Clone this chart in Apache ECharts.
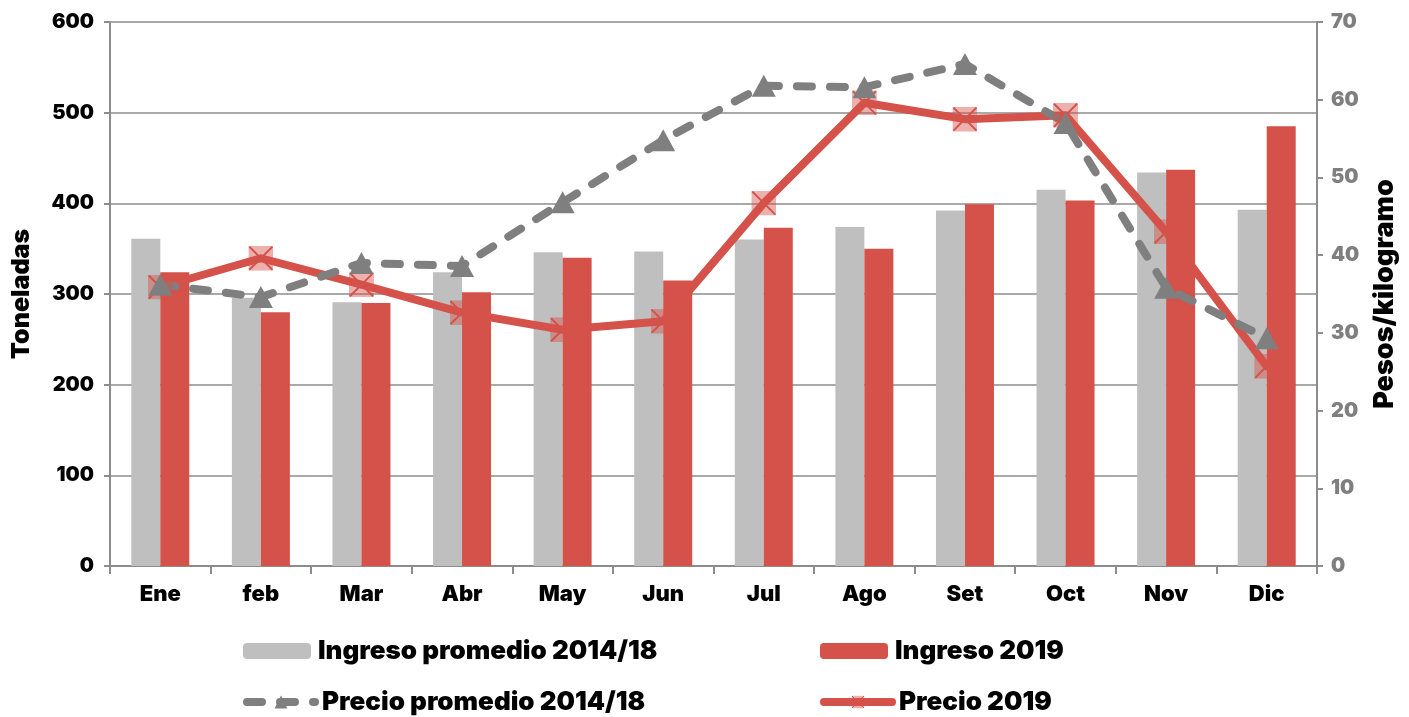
<!DOCTYPE html>
<html>
<head>
<meta charset="utf-8">
<script src="https://cdn.jsdelivr.net/npm/echarts@6/dist/echarts.min.js"></script>
<style>
  html, body { margin: 0; padding: 0; background: #fff; }
  #chart { width: 1409px; height: 717px; }
</style>
</head>
<body>
<div id="chart"></div>
<script>
// meses
var months = ['Ene', 'feb', 'Mar', 'Abr', 'May', 'Jun', 'Jul', 'Ago', 'Set', 'Oct', 'Nov', 'Dic'];
// toneladas
var ingresoProm = [361, 296, 291, 324, 346, 347, 360, 374, 392, 415, 434, 393];
var ingreso2019 = [324, 280, 290, 302, 340, 315, 373, 350, 399, 403, 437, 485];
// pesos / kilogramo
var precioProm = [36.2, 34.6, 39.0, 38.6, 46.8, 54.8, 61.8, 61.6, 64.6, 57.0, 35.8, 29.3];
var precio2019 = [35.9, 39.6, 36.2, 32.6, 30.4, 31.5, 46.7, 59.6, 57.5, 58.0, 43.0, 25.7];

var RED = '#d4524a';
var GRAY_BAR = '#bfbfbf';
var GRAY_LINE = '#7f7f7f';
var AXIS = '#8c8c8c';
var FONT = 'Inter';

// marcador cuadrado con X
var xMark = 'image://data:image/svg+xml;utf8,' + encodeURIComponent(
  '<svg xmlns="http://www.w3.org/2000/svg" width="26" height="26" viewBox="0 0 26 26">' +
  '<rect x="0" y="0" width="26" height="26" fill="rgba(212,82,74,0.45)"/>' +
  '<path d="M1 1 L25 25 M25 1 L1 25" stroke="#d4524a" stroke-width="2"/></svg>');

function legendAt (left, top, name) {
  return {
    left: left, top: top,
    itemWidth: 68, itemHeight: 16, itemGap: 0,
    textStyle: { fontFamily: FONT, fontWeight: 900, fontSize: 26, color: '#000', padding: [0, 0, 0, 2] },
    data: [{ name: name, lineStyle: { width: 8 } }]
  }
}

var chart = echarts.init(document.getElementById('chart'));
chart.setOption({
  animation: false,
  textStyle: { fontFamily: FONT },
  grid: { left: 110, right: 92, top: 22, bottom: 151 },
  legend: [
    legendAt(238, 633, 'Ingreso promedio 2014/18'),
    legendAt(238, 684, 'Precio promedio 2014/18'),
    legendAt(815, 633, 'Ingreso 2019'),
    legendAt(815, 684, 'Precio 2019')
  ],
  xAxis: {
    type: 'category',
    data: months,
    axisLine: { lineStyle: { color: AXIS, width: 2 } },
    axisTick: { show: true, length: 8, lineStyle: { color: AXIS, width: 2 } },
    axisLabel: { color: '#000', fontSize: 22, fontWeight: 900, fontFamily: FONT, margin: 17 }
  },
  yAxis: [
    {
      type: 'value', min: 0, max: 600, interval: 100,
      name: 'Toneladas', nameLocation: 'middle', nameRotate: 90, nameGap: 76,
      nameTextStyle: { color: '#000', fontSize: 25, fontWeight: 900, fontFamily: FONT },
      axisLine: { show: true, lineStyle: { color: AXIS, width: 2 } },
      axisTick: { show: true, length: 6, lineStyle: { color: AXIS, width: 2 } },
      axisLabel: { color: '#000', fontSize: 20, fontWeight: 900, fontFamily: FONT, margin: 16 },
      splitLine: { lineStyle: { color: AXIS, width: 1.5 } }
    },
    {
      type: 'value', min: 0, max: 70, interval: 10,
      name: 'Pesos/kilogramo', nameLocation: 'middle', nameRotate: 90, nameGap: 54,
      nameTextStyle: { color: '#000', fontSize: 27, fontWeight: 900, fontFamily: FONT },
      axisLine: { show: true, lineStyle: { color: AXIS, width: 2 } },
      axisTick: { show: true, length: 6, lineStyle: { color: AXIS, width: 2 } },
      axisLabel: { color: GRAY_LINE, fontSize: 20, fontWeight: 900, fontFamily: FONT, margin: 14 },
      splitLine: { show: false }
    }
  ],
  series: [
    {
      name: 'Ingreso promedio 2014/18', type: 'bar', yAxisIndex: 0,
      data: ingresoProm, barWidth: 29, barGap: '0%',
      itemStyle: { color: GRAY_BAR }
    },
    {
      name: 'Precio 2019', type: 'line', yAxisIndex: 1,
      data: precio2019,
      lineStyle: { color: RED, width: 8, cap: 'round', join: 'round' },
      itemStyle: { color: RED },
      symbol: xMark, symbolSize: 25
    },
    {
      name: 'Ingreso 2019', type: 'bar', yAxisIndex: 0,
      data: ingreso2019, barWidth: 29, barGap: '0%',
      itemStyle: { color: RED }
    },
    {
      name: 'Precio promedio 2014/18', type: 'line', yAxisIndex: 1,
      data: precioProm,
      lineStyle: { color: GRAY_LINE, width: 8, type: [15, 18], cap: 'round', join: 'round' },
      itemStyle: { color: GRAY_LINE },
      symbol: 'triangle', symbolSize: [24, 22]
    }
  ]
});
</script>
</body>
</html>
